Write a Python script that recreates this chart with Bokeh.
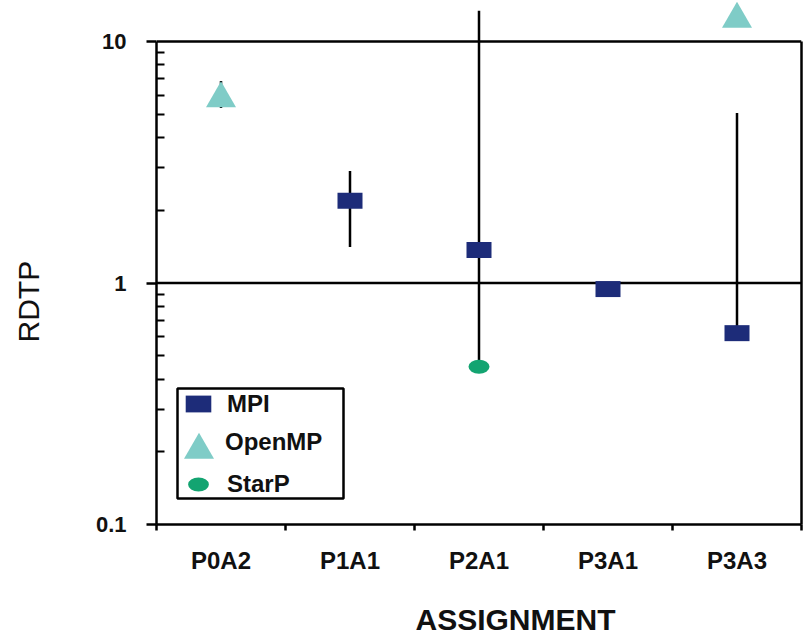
from bokeh.plotting import figure
from bokeh.models import (Range1d, FixedTicker, NumeralTickFormatter, CustomJSTickFormatter,
                          LogAxis, Span, Legend, LegendItem, BoxAnnotation, Title)
from bokeh.core.properties import value
from bokeh.embed import file_html
from bokeh.resources import INLINE

# ---------------- data ----------------
categories = ["P0A2", "P1A1", "P2A1", "P3A1", "P3A3"]

mpi_cats = ["P1A1", "P2A1", "P3A1", "P3A3"]
mpi_vals = [2.19, 1.37, 0.944, 0.62]

openmp_cats = ["P0A2", "P3A3"]
openmp_vals = [5.8, 12.4]

starp_cats = ["P2A1"]
starp_vals = [0.45]

err_cats = ["P0A2", "P1A1", "P2A1", "P3A3"]
err_low = [5.3, 1.41, 0.45, 0.62]
err_high = [6.86, 2.91, 13.4, 5.06]

y_major_ticks = [0.1, 1, 10]
y_minor_ticks = [0.2, 0.3, 0.4, 0.5, 0.6, 0.7, 0.8, 0.9, 2, 3, 4, 5, 6, 7, 8, 9]

# ---------------- style ----------------
FONT = "Liberation Sans"
MPI_C = "#1d2c79"
OMP_C = "#7fccc7"
STAR_C = "#13a471"
TXT = "#111111"
LW = 2.5


def pos(c):
    return categories.index(c) + 0.5


p = figure(width=809, height=636,
           x_range=Range1d(0, len(categories)), y_range=Range1d(0.1, 14.79),
           y_axis_type="log", output_backend="svg", toolbar_location=None,
           min_border_left=156, min_border_right=8, min_border_top=0, min_border_bottom=112)
p.outline_line_color = None
p.xgrid.visible = False
p.ygrid.visible = False
p.background_fill_color = "white"
p.border_fill_color = "white"

# top border at 10 and the reference line at 1
p.add_layout(Span(location=10, dimension="width", line_color="black", line_width=LW, level="underlay"))
p.add_layout(Span(location=1, dimension="width", line_color="black", line_width=LW, level="underlay"))

# error bars
p.segment(x0=[pos(c) for c in err_cats], y0=err_low, x1=[pos(c) for c in err_cats], y1=err_high,
          line_color="black", line_width=LW)

# markers
r_mpi = p.rect(x=[pos(c) for c in mpi_cats], y=mpi_vals, width=25, height=16,
               width_units="screen", height_units="screen",
               fill_color=MPI_C, line_color=None)
r_omp = p.scatter(x=[pos(c) for c in openmp_cats], y=openmp_vals, marker="triangle", size=30,
                  fill_color=OMP_C, line_color=None)
r_star = p.ellipse(x=[pos(c) for c in starp_cats], y=starp_vals, width=21, height=14,
                   width_units="screen", height_units="screen",
                   fill_color=STAR_C, line_color=None)

# left axis
yax = p.yaxis[0]
yax.ticker = FixedTicker(ticks=y_major_ticks, minor_ticks=y_minor_ticks)
yax.formatter = NumeralTickFormatter(format="0.[0]")
yax.bounds = (0.1, 10)
yax.axis_line_width = LW
yax.axis_line_color = "black"
yax.major_tick_out = 10
yax.major_tick_in = 0
yax.major_tick_line_width = LW
yax.minor_tick_in = 8
yax.minor_tick_out = 0
yax.minor_tick_line_width = 2
yax.major_label_standoff = 20
yax.major_label_text_font = FONT
yax.major_label_text_font_style = "bold"
yax.major_label_text_font_size = "22px"
yax.major_label_text_color = TXT

# bottom axis
xax = p.xaxis[0]
xax.ticker = FixedTicker(ticks=[i + 0.5 for i in range(len(categories))],
                         minor_ticks=list(range(len(categories) + 1)))
xax.formatter = CustomJSTickFormatter(args=dict(cats=categories),
                                      code="return cats[Math.floor(tick)];")
xax.axis_line_width = LW
xax.axis_line_color = "black"
xax.major_tick_out = 0
xax.major_tick_in = 0
xax.minor_tick_out = 6
xax.minor_tick_in = 0
xax.minor_tick_line_width = LW
xax.major_label_standoff = 16
xax.major_label_text_font = FONT
xax.major_label_text_font_style = "bold"
xax.major_label_text_font_size = "24px"
xax.major_label_text_color = TXT

# right border as an axis
ra = LogAxis(ticker=FixedTicker(ticks=[]), bounds=(0.1, 10),
             major_label_text_font_size="0px", major_tick_out=0, major_tick_in=0,
             minor_tick_out=0, minor_tick_in=0, axis_line_width=LW, axis_line_color="black")
p.add_layout(ra, "right")

# axis titles (with thin spacer titles to push them to their places)
p.add_layout(Title(text=" ", standoff=21, text_font_size="1px"), "below")
p.add_layout(Title(text="ASSIGNMENT", align="left", offset=259, standoff=0,
                   text_font=FONT, text_font_style="bold", text_font_size="30px",
                   text_color=TXT), "below")
p.add_layout(Title(text=" ", standoff=45, text_font_size="1px"), "left")
p.add_layout(Title(text="RDTP", align="left", offset=182, standoff=0,
                   text_font=FONT, text_font_style="normal", text_font_size="30px",
                   text_color=TXT), "left")

# legend frame
p.add_layout(BoxAnnotation(left=21, right=187, bottom=26, top=136,
                           left_units="screen", right_units="screen",
                           top_units="screen", bottom_units="screen",
                           fill_color="white", fill_alpha=1.0,
                           line_color="black", line_alpha=1.0, line_width=2.5))

common = dict(padding=0, margin=0, spacing=0, border_line_color=None,
              background_fill_alpha=0, label_text_font=FONT, label_text_font_style="bold",
              label_text_font_size="24px", label_text_color=TXT, label_height=21)

p.add_layout(Legend(items=[LegendItem(label=value("MPI"), renderers=[r_mpi])],
                    location=(26, 106.5), glyph_width=32, glyph_height=21,
                    label_standoff=13, **common))
# OpenMP: large triangle key, and its label in a separate legend row without a key
p.add_layout(Legend(items=[LegendItem(label=value(" "), renderers=[r_omp])],
                    location=(4.5, 37.5), glyph_width=75, glyph_height=75,
                    label_standoff=0, **common))
p.add_layout(Legend(items=[LegendItem(label=value("OpenMP"), renderers=[r_omp])],
                    location=(69, 68.5), glyph_width=0, glyph_height=21,
                    label_standoff=0, **common))
p.add_layout(Legend(items=[LegendItem(label=value("StarP"), renderers=[r_star])],
                    location=(29, 26), glyph_width=26, glyph_height=26,
                    label_standoff=16, **common))

open("out.html", "w").write(file_html(p, INLINE))
